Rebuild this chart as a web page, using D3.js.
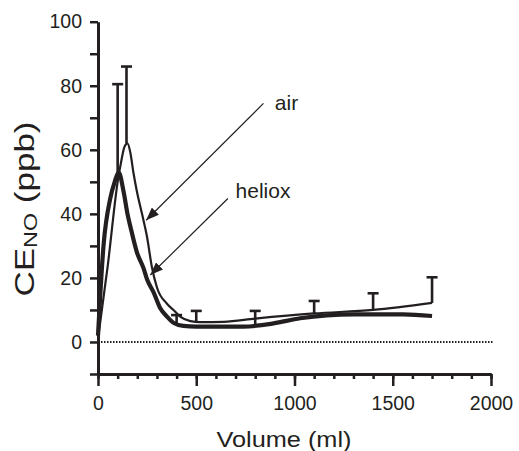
<!DOCTYPE html>
<html>
<head>
<meta charset="utf-8">
<script src="https://cdn.jsdelivr.net/npm/d3@7"></script>
<style>
  body { margin: 0; background: #fff; }
  svg { display: block; font-family: "Liberation Sans", Arial, sans-serif; }
</style>
</head>
<body>
<svg id="chart" width="519" height="451"></svg>
<script>
// values
var volumeAir = [0, 50, 100, 120, 135, 150, 165, 180, 198, 224, 249, 274, 300, 350, 384, 420, 470, 520, 640, 800, 1100, 1400, 1700];
var cenoAir   = [1, 24, 50, 57, 61, 62, 59, 53, 47, 40, 33, 23.5, 17, 12, 10, 7.8, 6.5, 6.2, 6.3, 7.3, 8.9, 10, 12.2];

var volumeHeliox = [0, 28, 63, 85, 105, 130, 150, 165, 198, 232, 250, 283, 317, 350, 384, 435, 500, 740, 893, 1029, 1300, 1554, 1700];
var cenoHeliox   = [2, 30, 45, 50, 53, 47, 40, 36, 28, 23, 19.5, 15.5, 10.5, 8, 6, 5, 4.8, 4.8, 5.8, 7.4, 8.6, 8.6, 8.1];

// error bars: volume, lower end (curve), upper end (SD)
var errVolume = [100, 145, 400, 500, 800, 1100, 1400, 1700];
var errLow    = [53, 62, 5.6, 6.3, 5.3, 8.7, 10, 12.2];
var errHigh   = [80.5, 86, 8.4, 9.7, 9.7, 12.8, 15.2, 20.2];

var xTicks = [0, 500, 1000, 1500, 2000];
var yTicks = [0, 20, 40, 60, 80, 100];

// arrows: label, text position, arrow start, arrow tip (in data units)
var labels      = ["air", "heliox"];
var labelPos    = [[900, 72.5], [700, 45]];
var arrowStart  = [[842, 74.5], [661, 44.8]];
var arrowTip    = [[245, 38], [266, 20.9]];

var ink = "#231f20";
var svg = d3.select("#chart");

var x = d3.scaleLinear().domain([0, 2000]).range([98, 491]);
var y = d3.scaleLinear().domain([-10, 100]).range([374, 21.7]);

// axes
var yAxis = d3.axisLeft(y)
    .tickValues(d3.range(-10, 101, 10))
    .tickSize(8)
    .tickSizeOuter(0)
    .tickPadding(8)
    .tickFormat(function (d) { return yTicks.indexOf(d) >= 0 ? d : ""; });

var gy = svg.append("g").attr("transform", "translate(" + x(0) + ",0)").call(yAxis);

var xMinor = d3.axisBottom(x).tickValues(d3.range(0, 2001, 100)).tickSize(5).tickSizeOuter(0).tickFormat("");
var xAxis = d3.axisBottom(x).tickValues(xTicks).tickSize(12).tickSizeOuter(0).tickPadding(10).tickFormat(d3.format("d"));

var gxm = svg.append("g").attr("transform", "translate(0," + y(-10) + ")").call(xMinor);
var gx = svg.append("g").attr("transform", "translate(0," + y(-10) + ")").call(xAxis);

[gy, gx, gxm].forEach(function (g) {
    g.selectAll("path.domain").attr("stroke", ink).attr("stroke-width", 3);
    g.selectAll(".tick line").attr("stroke", ink).attr("stroke-width", 2.5);
    g.selectAll(".tick text").attr("fill", ink).style("font-size", "19.5px")
        .style("font-family", "'Liberation Sans', Arial, sans-serif");
});

// zero line
svg.append("line")
    .attr("x1", x(0)).attr("x2", x(2000) + 2)
    .attr("y1", y(0)).attr("y2", y(0))
    .attr("stroke", ink).attr("stroke-width", 2)
    .attr("stroke-dasharray", "1.5,1.5");

// curves
var line = d3.line()
    .x(function (d) { return x(d[0]); })
    .y(function (d) { return y(d[1]); })
    .curve(d3.curveMonotoneX);

svg.append("path")
    .datum(d3.zip(volumeAir, cenoAir))
    .attr("d", line)
    .attr("fill", "none").attr("stroke", ink).attr("stroke-width", 2.2)
    .attr("stroke-linejoin", "round");

svg.append("path")
    .datum(d3.zip(volumeHeliox, cenoHeliox))
    .attr("d", line)
    .attr("fill", "none").attr("stroke", ink).attr("stroke-width", 4.2)
    .attr("stroke-linejoin", "round");

// error bars
var eb = svg.append("g").attr("stroke", ink).attr("stroke-width", 2.6);
errVolume.forEach(function (v, i) {
    eb.append("line").attr("x1", x(v)).attr("x2", x(v)).attr("y1", y(errLow[i])).attr("y2", y(errHigh[i]));
    eb.append("line").attr("x1", x(v) - 5.5).attr("x2", x(v) + 5.5).attr("y1", y(errHigh[i])).attr("y2", y(errHigh[i]));
});

// arrows and labels
svg.append("defs").append("marker")
    .attr("id", "head")
    .attr("markerUnits", "userSpaceOnUse")
    .attr("markerWidth", 14).attr("markerHeight", 10)
    .attr("refX", 13).attr("refY", 5)
    .attr("orient", "auto")
    .append("path").attr("d", "M0,0 L13,5 L0,10 Z").attr("fill", ink);

labels.forEach(function (t, i) {
    svg.append("line")
        .attr("x1", x(arrowStart[i][0])).attr("y1", y(arrowStart[i][1]))
        .attr("x2", x(arrowTip[i][0])).attr("y2", y(arrowTip[i][1]))
        .attr("stroke", ink).attr("stroke-width", 1.2)
        .attr("marker-end", "url(#head)");
    svg.append("text")
        .attr("x", x(labelPos[i][0])).attr("y", y(labelPos[i][1]))
        .attr("fill", ink).style("font-size", "21px")
        .text(t);
});

// axis titles
svg.append("text")
    .attr("x", 284).attr("y", 447)
    .attr("text-anchor", "middle")
    .attr("fill", ink).style("font-size", "22px")
    .attr("textLength", 135).attr("lengthAdjust", "spacingAndGlyphs")
    .text("Volume (ml)");

var yt = svg.append("text")
    .attr("transform", "translate(34,209) rotate(-90)")
    .attr("text-anchor", "middle")
    .attr("fill", ink).style("font-size", "27px")
    .attr("textLength", 175).attr("lengthAdjust", "spacingAndGlyphs");
yt.append("tspan").text("C");
yt.append("tspan").text("E");
yt.append("tspan").style("font-size", "18px").attr("dy", 3).text("NO");
yt.append("tspan").attr("dy", -3).text(" (ppb)");
</script>
</body>
</html>
